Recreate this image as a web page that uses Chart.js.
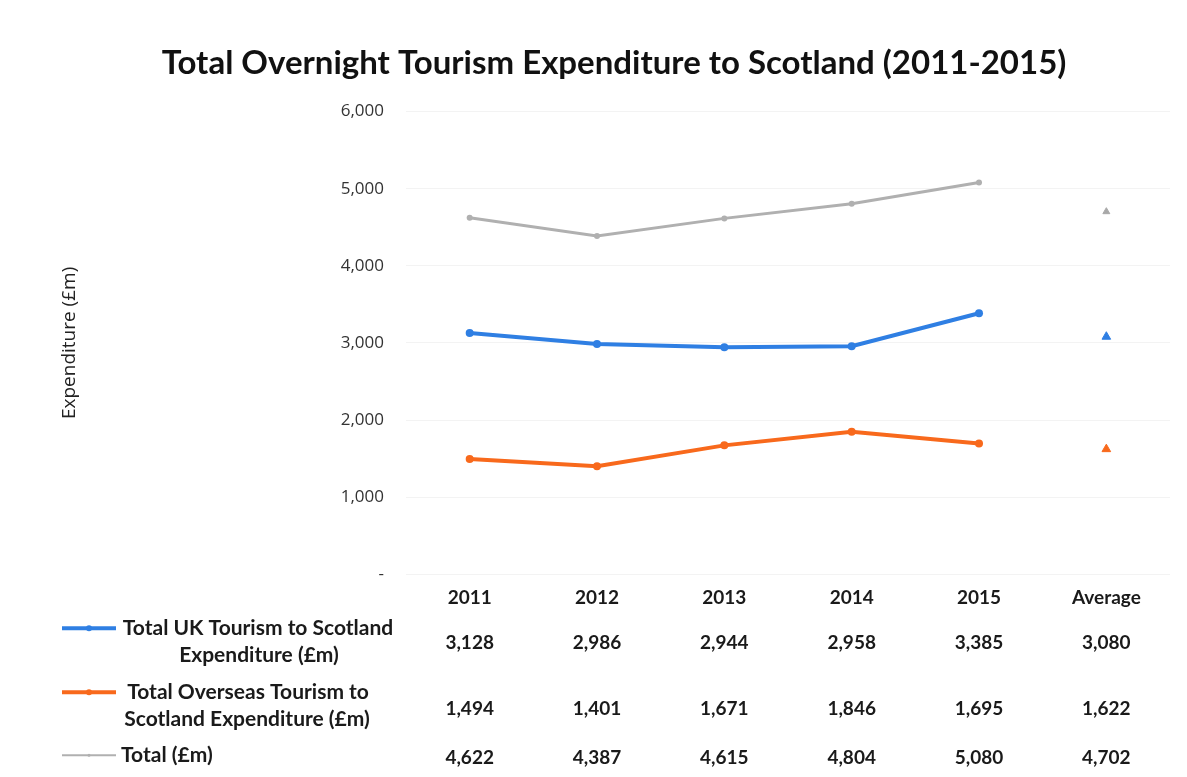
<!DOCTYPE html>
<html>
<head>
<meta charset="utf-8">
<title>Total Overnight Tourism Expenditure to Scotland</title>
<script src="https://cdn.jsdelivr.net/npm/chart.js@4.4.1/dist/chart.umd.min.js"></script>
<style>
  html, body { margin: 0; padding: 0; background: #fff; }
  #wrap { width: 1187px; height: 777px; }
</style>
</head>
<body>
<div id="wrap"><canvas id="tourism-chart" width="1187" height="777"></canvas></div>
<script>
// Categories along the x axis (last column holds the 5-year average)
const years = ['2011', '2012', '2013', '2014', '2015', 'Average'];

// Expenditure in £m per year
const ukSpend = [3128, 2986, 2944, 2958, 3385];
const overseasSpend = [1494, 1401, 1671, 1846, 1695];
const totalSpend = [4622, 4387, 4615, 4804, 5080];

// Averages over 2011-2015
const ukAverage = 3080;
const overseasAverage = 1622;
const totalAverage = 4702;

// Y axis range
const yTicks = [0, 1000, 2000, 3000, 4000, 5000, 6000];

const BLUE = '#2f7fe3';
const ORANGE = '#f8691c';
const GREY = '#b0b0b0';

// Table rows drawn under the x axis
const tableRows = [
    { label: ['Total UK Tourism to Scotland', 'Expenditure (£m)'], values: ukSpend.concat([ukAverage]), color: BLUE, width: 4 },
    { label: ['Total Overseas Tourism to', 'Scotland Expenditure (£m)'], values: overseasSpend.concat([overseasAverage]), color: ORANGE, width: 4 },
    { label: ['Total (£m)'], values: totalSpend.concat([totalAverage]), color: GREY, width: 2 },
];

function fmt(v) {
    return v.toLocaleString('en-GB');
}

// Only the Average column gets a value, shown as a triangle
function averageOnly(v) {
    return years.map((y, i) => (i === years.length - 1 ? v : null));
}

const dataTable = {
    id: 'dataTable',
    afterDraw(chart) {
        const ctx = chart.ctx;
        const x = chart.scales.x;
        const base = chart.chartArea.bottom;
        // label line 1, label line 2, value row (offsets below the plot)
        const rowY = [[54, 81, 69], [118, 145, 135], [181, 181, 184]];
        ctx.save();
        ctx.textBaseline = 'middle';
        tableRows.forEach((row, r) => {
            const [y1, y2, yv] = rowY[r];
            // legend key
            const keyY = base + y1;
            ctx.strokeStyle = row.color;
            ctx.lineWidth = row.width;
            ctx.beginPath();
            ctx.moveTo(62, keyY);
            ctx.lineTo(116, keyY);
            ctx.stroke();
            ctx.fillStyle = row.color;
            ctx.beginPath();
            ctx.arc(89, keyY, row.width === 2 ? 1.5 : 3, 0, Math.PI * 2);
            ctx.fill();

            // row label
            ctx.fillStyle = '#1a1a1a';
            ctx.font = 'bold 21px Lato';
            if (row.label.length === 2) {
                ctx.textAlign = 'center';
                ctx.fillText(row.label[0], r === 0 ? 258 : 248, base + y1);
                ctx.fillText(row.label[1], r === 0 ? 259 : 247, base + y2);
            } else {
                ctx.textAlign = 'left';
                ctx.fillText(row.label[0], 121, base + y1);
            }

            // values aligned with the category columns
            ctx.font = 'bold 19px Lato';
            ctx.textAlign = 'center';
            row.values.forEach((v, i) => {
                ctx.fillText(fmt(v), x.getPixelForValue(i), base + yv);
            });
        });
        ctx.restore();
    }
};

const ctx = document.getElementById('tourism-chart').getContext('2d');
const myChart = new Chart(ctx, {
    type: 'line',
    data: {
        labels: years,
        datasets: [
            {
                label: 'Total UK Tourism to Scotland Expenditure (£m)',
                data: ukSpend,
                borderColor: BLUE, backgroundColor: BLUE,
                borderWidth: 4, pointRadius: 4, pointBorderWidth: 0,
            },
            {
                label: 'Total Overseas Tourism to Scotland Expenditure (£m)',
                data: overseasSpend,
                borderColor: ORANGE, backgroundColor: ORANGE,
                borderWidth: 4, pointRadius: 4, pointBorderWidth: 0,
            },
            {
                label: 'Total (£m)',
                data: totalSpend,
                borderColor: GREY, backgroundColor: GREY,
                borderWidth: 3, pointRadius: 3, pointBorderWidth: 0,
            },
            {
                label: 'UK average',
                data: averageOnly(ukAverage),
                showLine: false, pointStyle: 'triangle',
                backgroundColor: BLUE, borderColor: BLUE, pointRadius: 5,
            },
            {
                label: 'Overseas average',
                data: averageOnly(overseasAverage),
                showLine: false, pointStyle: 'triangle',
                backgroundColor: ORANGE, borderColor: ORANGE, pointRadius: 5,
            },
            {
                label: 'Total average',
                data: averageOnly(totalAverage),
                showLine: false, pointStyle: 'triangle',
                backgroundColor: '#a8a8a8', borderColor: '#a8a8a8', pointRadius: 4,
            },
        ],
    },
    options: {
        responsive: false,
        animation: false,
        layout: { padding: { left: 58, right: 17, top: 0, bottom: 164 } },
        plugins: {
            legend: { display: false },
            tooltip: { enabled: false },
            title: {
                display: true,
                text: 'Total Overnight Tourism Expenditure to Scotland (2011-2015)',
                color: '#111',
                font: { family: 'Lato', size: 33, weight: 'bold' },
                padding: { top: 44, bottom: 28 },
            },
        },
        scales: {
            x: {
                offset: true,
                grid: { display: false },
                border: { display: false },
                ticks: {
                    color: '#1a1a1a',
                    padding: 4,
                    font: { family: 'Lato', size: 19, weight: 'bold' },
                },
            },
            y: {
                min: yTicks[0],
                max: yTicks[yTicks.length - 1],
                afterBuildTicks(scale) {
                    scale.ticks = yTicks.map(v => ({ value: v }));
                },
                afterFit(scale) {
                    scale.width = 348;
                },
                grid: { color: '#f3f3f3', lineWidth: 1, drawTicks: false },
                border: { display: false },
                ticks: {
                    color: '#333',
                    padding: 22,
                    font: { family: 'Open Sans', size: 17 },
                    callback: v => (v === 0 ? '-' : fmt(v)),
                },
                title: {
                    display: true,
                    text: 'Expenditure (£m)',
                    color: '#222',
                    font: { family: 'Open Sans', size: 19 },
                    padding: 0,
                },
            },
        },
    },
    plugins: [dataTable],
});
</script>
</body>
</html>
